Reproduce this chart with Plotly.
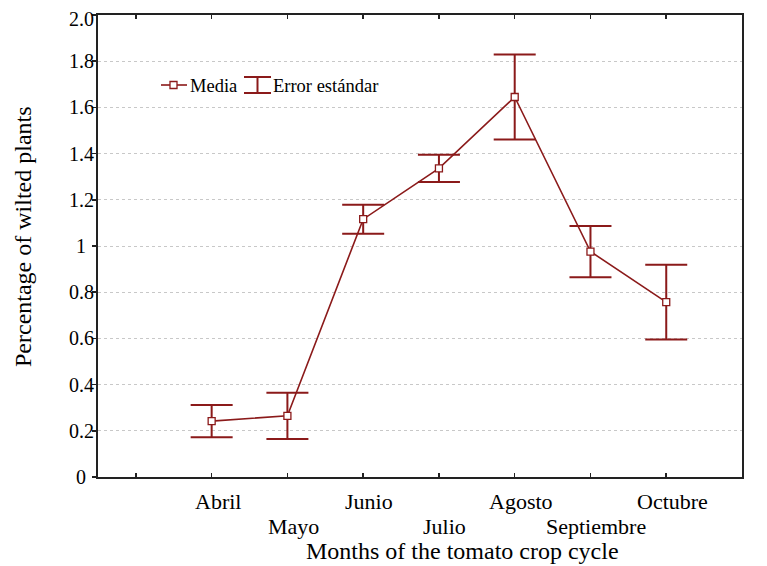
import plotly.graph_objects as go

months = ["Abril", "Mayo", "Junio", "Julio", "Agosto", "Septiembre", "Octubre"]
media = [0.242, 0.265, 1.116, 1.336, 1.645, 0.976, 0.757]
error_std = [0.070, 0.100, 0.063, 0.059, 0.184, 0.111, 0.162]
y_tickvals = [0, 0.2, 0.4, 0.6, 0.8, 1.0, 1.2, 1.4, 1.6, 1.8, 2.0]
y_ticktext = ["0", "0.2", "0.4", "0.6", "0.8", "1", "1.2", "1.4", "1.6", "1.8", "2.0"]

COLOR = "#8b1a1a"
FONT = "Liberation Serif"

W, H = 767, 566
L, R, T, B = 98, 742, 15, 477

def px(x):
    return (x - L) / (R - L)

def py(y):
    return (B - y) / (B - T)

x_pos = list(range(len(months)))
x_tickvals = [-1] + x_pos + [len(months)]

fig = go.Figure()
fig.add_trace(go.Scatter(
    x=x_pos, y=media, mode="lines+markers",
    line=dict(color=COLOR, width=1.6),
    marker=dict(symbol="square", size=7, color="white", line=dict(color=COLOR, width=1.3)),
    error_y=dict(type="data", array=error_std, visible=True, color=COLOR, thickness=2, width=21),
    showlegend=False, hoverinfo="skip",
))

# Manual legend (paper coordinates)
shapes = [
    dict(type="line", xref="paper", yref="paper", x0=px(161), x1=px(187), y0=py(85), y1=py(85),
         line=dict(color=COLOR, width=1.6)),
    dict(type="rect", xref="paper", yref="paper", x0=px(170), x1=px(177), y0=py(81.5), y1=py(88.5),
         line=dict(color=COLOR, width=1.3), fillcolor="white"),
    dict(type="line", xref="paper", yref="paper", x0=px(257.5), x1=px(257.5), y0=py(77), y1=py(93),
         line=dict(color=COLOR, width=2)),
    dict(type="line", xref="paper", yref="paper", x0=px(244), x1=px(271), y0=py(77), y1=py(77),
         line=dict(color=COLOR, width=2)),
    dict(type="line", xref="paper", yref="paper", x0=px(244), x1=px(271), y0=py(93), y1=py(93),
         line=dict(color=COLOR, width=2)),
]

annotations = [
    dict(text="Media", xref="paper", yref="paper", x=px(188), y=py(86), xanchor="left", yanchor="middle",
         showarrow=False, font=dict(family=FONT, size=18.5, color="black")),
    dict(text="Error estándar", xref="paper", yref="paper", x=px(271), y=py(86), xanchor="left",
         yanchor="middle", showarrow=False, font=dict(family=FONT, size=18.5, color="black")),
    # axis titles
    dict(text="Months of the tomato crop cycle", xref="paper", yref="paper", x=px(462), y=py(551),
         xanchor="center", yanchor="middle", showarrow=False,
         font=dict(family=FONT, size=24, color="black")),
    dict(text="Percentage of wilted plants", xref="paper", yref="paper", x=px(23), y=py(237),
         xanchor="center", yanchor="middle", textangle=-90, showarrow=False,
         font=dict(family=FONT, size=24, color="black")),
]

# x category labels, staggered in two rows
for i, m in enumerate(months):
    row_y = 501 if i % 2 == 0 else 526
    annotations.append(dict(
        text=m, x=x_pos[i], xref="x", y=py(row_y), yref="paper", xanchor="center", yanchor="middle",
        xshift=6, showarrow=False, font=dict(family=FONT, size=22, color="black")))

# y tick labels, centered
for v, t in zip(y_tickvals, y_ticktext):
    annotations.append(dict(
        text=t, x=px(81), xref="paper", y=v, yref="y", xanchor="center", yanchor="middle",
        yshift=-4 if v == 2.0 else 0, showarrow=False,
        font=dict(family=FONT, size=20, color="black")))

fig.update_layout(
    width=W, height=H,
    margin=dict(l=L, r=W - R, t=T, b=H - B, autoexpand=False),
    plot_bgcolor="white", paper_bgcolor="white",
    font=dict(family=FONT, size=19, color="black"),
    shapes=shapes, annotations=annotations,
    hovermode=False,
    xaxis=dict(
        range=[-1.5, 7], tickvals=x_tickvals, showticklabels=False, automargin=False,
        ticks="inside", ticklen=4, tickwidth=1.5, tickcolor="#222", mirror="ticks",
        showline=True, linecolor="#222", linewidth=2, showgrid=False, zeroline=False,
    ),
    yaxis=dict(
        range=[0, 2.0], tickvals=y_tickvals, showticklabels=False, automargin=False,
        ticks="outside", ticklen=4, tickwidth=1.5, tickcolor="#222",
        showline=True, linecolor="#222", linewidth=2, mirror=True,
        showgrid=True, gridcolor="#c8c8c8", griddash="dot", gridwidth=1, zeroline=False,
    ),
)

fig.write_html(
    "out.html",
    config={"displayModeBar": False, "staticPlot": True},
    post_script="document.body.style.margin='0px';document.body.style.overflow='hidden';",
)
